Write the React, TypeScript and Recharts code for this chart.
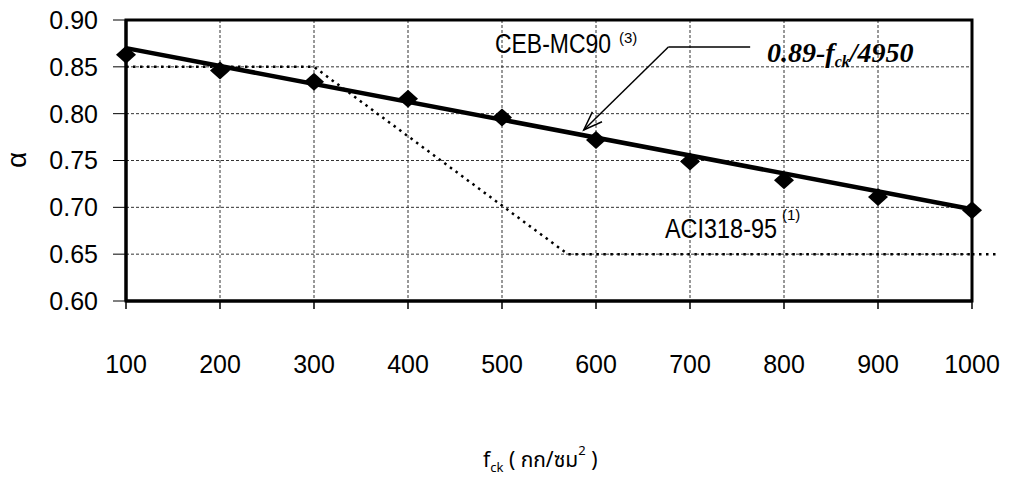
import React from "react";
import {
  CartesianGrid,
  Line,
  LineChart,
  ReferenceArea,
  ReferenceLine,
  XAxis,
  YAxis,
} from "recharts";

const fck = [100, 200, 300, 400, 500, 600, 700, 800, 900, 1000];
const alphaTest = [0.863, 0.846, 0.834, 0.816, 0.796, 0.772, 0.749, 0.729, 0.711, 0.697];

// fitted line 0.89 - fck/4950, read at both ends
const trendX = [100, 1000];
const trendY = [0.87, 0.698];

// ACI318-95 limit
const aciX = [100, 300, 570, 1000];
const aciY = [0.85, 0.85, 0.65, 0.65];
const aciTailX = 1025;

// leader line from formula text to the fitted line
const arrowX = [587, 677, 764];
const arrowY = [0.7826, 0.8712, 0.8712];

const yTicks = [0.6, 0.65, 0.7, 0.75, 0.8, 0.85, 0.9];

const testData = fck.map((x, i) => ({ x, a: alphaTest[i] }));
const trendData = trendX.map((x, i) => ({ x, t: trendY[i] }));
const aciData = aciX.map((x, i) => ({ x, c: aciY[i] }));

const sans = "'Liberation Sans', Arial, sans-serif";

function Diamond(props: any) {
  const { cx, cy } = props;
  if (cx == null || cy == null) return null;
  return (
    <polygon
      points={`${cx},${cy - 9} ${cx + 10},${cy} ${cx},${cy + 9} ${cx - 10},${cy}`}
      fill="#000"
    />
  );
}

function ArrowLine(props: any) {
  const { x1, y1, x2, y2 } = props;
  const ang = Math.atan2(y2 - y1, x2 - x1);
  const len = 20;
  const spread = 0.35;
  const ax = x1 + len * Math.cos(ang - spread);
  const ay = y1 + len * Math.sin(ang - spread);
  const bx = x1 + len * Math.cos(ang + spread);
  const by = y1 + len * Math.sin(ang + spread);
  return (
    <g>
      <line x1={x1} y1={y1} x2={x2} y2={y2} stroke="#000" strokeWidth={1.5} />
      <polyline
        points={`${ax},${ay} ${x1},${y1} ${bx},${by}`}
        fill="none"
        stroke="#000"
        strokeWidth={1.5}
      />
    </g>
  );
}

export default function App() {
  return (
    <div style={{ position: "absolute", left: 0, top: 0, width: 1010, height: 484, background: "#fff" }}>
      <LineChart
        width={1010}
        height={484}
        margin={{ top: 20, right: 38, left: 26, bottom: 103 }}
      >
        <CartesianGrid
          stroke="#333"
          strokeDasharray="3 2"
          strokeWidth={1}
          horizontalValues={yTicks}
          verticalValues={fck}
        />
        <XAxis
          dataKey="x"
          type="number"
          domain={[100, 1000]}
          ticks={fck}
          height={80}
          tickSize={8}
          tickMargin={46}
          axisLine={{ stroke: "#000", strokeWidth: 3 }}
          tickLine={{ stroke: "#000", strokeWidth: 1.5 }}
          tick={{ fontSize: 25, fill: "#000", fontFamily: sans }}
          allowDuplicatedCategory={false}
        />
        <YAxis
          type="number"
          domain={[0.6, 0.9]}
          ticks={yTicks}
          width={100}
          tickSize={13}
          tickMargin={15}
          axisLine={{ stroke: "#000", strokeWidth: 3 }}
          tickLine={{ stroke: "#000", strokeWidth: 1 }}
          tick={{ fontSize: 25, fill: "#000", fontFamily: sans }}
          tickFormatter={(v: number) => v.toFixed(2)}
        />
        <ReferenceArea
          x1={100}
          x2={1000}
          y1={0.6}
          y2={0.9}
          fill="none"
          stroke="#000"
          strokeWidth={3}
        />
        <Line
          data={aciData}
          dataKey="c"
          type="linear"
          stroke="#000"
          strokeWidth={2.5}
          strokeDasharray="2.5 4.5"
          dot={false}
          activeDot={false}
          isAnimationActive={false}
        />
        <ReferenceLine
          segment={[
            { x: aciX[aciX.length - 1], y: aciY[aciY.length - 1] },
            { x: aciTailX, y: aciY[aciY.length - 1] },
          ]}
          ifOverflow="visible"
          stroke="#000"
          strokeWidth={2.5}
          strokeDasharray="2.5 4.5"
        />
        <Line
          data={trendData}
          dataKey="t"
          type="linear"
          stroke="#000"
          strokeWidth={4.5}
          dot={false}
          activeDot={false}
          isAnimationActive={false}
        />
        <Line
          data={testData}
          dataKey="a"
          stroke="none"
          dot={<Diamond />}
          activeDot={false}
          isAnimationActive={false}
        />
        <ReferenceLine
          segment={[
            { x: arrowX[0], y: arrowY[0] },
            { x: arrowX[1], y: arrowY[1] },
          ]}
          shape={(p: any) => <ArrowLine {...p} />}
        />
        <ReferenceLine
          segment={[
            { x: arrowX[1], y: arrowY[1] },
            { x: arrowX[2], y: arrowY[2] },
          ]}
          stroke="#000"
          strokeWidth={1.5}
        />
        <text x={495} y={53} fontFamily={sans} fontSize={27} fill="#000">
          <tspan textLength={116} lengthAdjust="spacingAndGlyphs">CEB-MC90</tspan>
        </text>
        <text x={619} y={43} fontFamily={sans} fontSize={15} fill="#000">(3)</text>
        <text x={665} y={238} fontFamily={sans} fontSize={27} fill="#000">
          <tspan textLength={112} lengthAdjust="spacingAndGlyphs">ACI318-95</tspan>
        </text>
        <text x={782} y={220} fontFamily={sans} fontSize={15} fill="#000">(1)</text>
        <text
          x={767}
          y={62}
          fontFamily="'Liberation Serif', 'Times New Roman', serif"
          fontStyle="italic"
          fontWeight="bold"
          fontSize={28}
          fill="#000"
        >
          0.89-f<tspan fontSize={16} dy={5}>ck</tspan>
          <tspan dy={-5}>/4950</tspan>
        </text>
        <text
          x={26}
          y={160}
          transform="rotate(-90 26 160)"
          textAnchor="middle"
          fontFamily={sans}
          fontSize={28}
          fill="#000"
        >
          α
        </text>
        <text
          x={483}
          y={467}
          fontFamily="'Noto Sans', 'Noto Sans Thai', sans-serif"
          fontSize={21}
          fill="#000"
        >
          f<tspan fontSize={13} dy={5}>ck</tspan>
          <tspan dy={-5}> ( กก/ซม</tspan>
          <tspan fontSize={13} dy={-12}>2</tspan>
          <tspan dy={12}> )</tspan>
        </text>
      </LineChart>
    </div>
  );
}
